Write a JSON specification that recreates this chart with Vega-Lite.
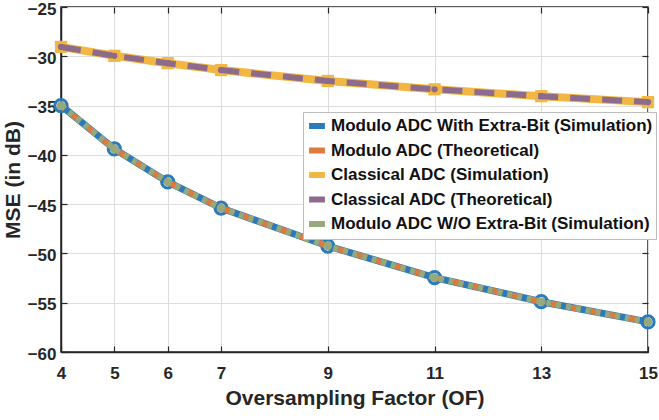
{
  "$schema": "https://vega.github.io/schema/vega-lite/v6.json",
  "width": 587,
  "height": 345,
  "autosize": {"type": "none"},
  "padding": {"left": 61, "top": 7, "right": 11, "bottom": 68},
  "background": "white",
  "config": {
    "view": {"stroke": "#262626", "strokeWidth": 1.5},
    "axis": {
      "domainColor": "#262626",
      "domainWidth": 1.5,
      "tickColor": "#262626",
      "tickWidth": 1.2,
      "tickSize": -6,
      "labelColor": "#262626",
      "labelFont": "Liberation Sans",
      "labelFontWeight": "bold",
      "labelFontSize": 17,
      "titleColor": "#262626",
      "titleFont": "Liberation Sans",
      "titleFontWeight": "bold",
      "titleFontSize": 21,
      "gridColor": "#DEDEDE",
      "gridWidth": 1
    },
    "legend": {
      "labelFont": "Liberation Sans",
      "labelFontWeight": "bold",
      "labelFontSize": 17,
      "labelColor": "#111111",
      "labelLimit": 0
    }
  },
  "data": {
    "values": [
      {"series": "Modulo ADC With Extra-Bit (Simulation)", "of": 4, "mse": -35.0},
      {"series": "Modulo ADC With Extra-Bit (Simulation)", "of": 5, "mse": -39.4},
      {"series": "Modulo ADC With Extra-Bit (Simulation)", "of": 6, "mse": -42.75},
      {"series": "Modulo ADC With Extra-Bit (Simulation)", "of": 7, "mse": -45.4},
      {"series": "Modulo ADC With Extra-Bit (Simulation)", "of": 9, "mse": -49.25},
      {"series": "Modulo ADC With Extra-Bit (Simulation)", "of": 11, "mse": -52.45},
      {"series": "Modulo ADC With Extra-Bit (Simulation)", "of": 13, "mse": -54.9},
      {"series": "Modulo ADC With Extra-Bit (Simulation)", "of": 15, "mse": -56.95},
      {"series": "Modulo ADC (Theoretical)", "of": 4, "mse": -35.0},
      {"series": "Modulo ADC (Theoretical)", "of": 5, "mse": -39.4},
      {"series": "Modulo ADC (Theoretical)", "of": 6, "mse": -42.75},
      {"series": "Modulo ADC (Theoretical)", "of": 7, "mse": -45.4},
      {"series": "Modulo ADC (Theoretical)", "of": 9, "mse": -49.25},
      {"series": "Modulo ADC (Theoretical)", "of": 11, "mse": -52.45},
      {"series": "Modulo ADC (Theoretical)", "of": 13, "mse": -54.9},
      {"series": "Modulo ADC (Theoretical)", "of": 15, "mse": -56.95},
      {"series": "Classical ADC (Simulation)", "of": 4, "mse": -29.05},
      {"series": "Classical ADC (Simulation)", "of": 5, "mse": -29.95},
      {"series": "Classical ADC (Simulation)", "of": 6, "mse": -30.7},
      {"series": "Classical ADC (Simulation)", "of": 7, "mse": -31.4},
      {"series": "Classical ADC (Simulation)", "of": 9, "mse": -32.5},
      {"series": "Classical ADC (Simulation)", "of": 11, "mse": -33.35},
      {"series": "Classical ADC (Simulation)", "of": 13, "mse": -34.05},
      {"series": "Classical ADC (Simulation)", "of": 15, "mse": -34.65},
      {"series": "Classical ADC (Theoretical)", "of": 4, "mse": -29.05},
      {"series": "Classical ADC (Theoretical)", "of": 5, "mse": -29.95},
      {"series": "Classical ADC (Theoretical)", "of": 6, "mse": -30.7},
      {"series": "Classical ADC (Theoretical)", "of": 7, "mse": -31.4},
      {"series": "Classical ADC (Theoretical)", "of": 9, "mse": -32.5},
      {"series": "Classical ADC (Theoretical)", "of": 11, "mse": -33.35},
      {"series": "Classical ADC (Theoretical)", "of": 13, "mse": -34.05},
      {"series": "Classical ADC (Theoretical)", "of": 15, "mse": -34.65},
      {"series": "Modulo ADC W/O Extra-Bit (Simulation)", "of": 4, "mse": -35.0},
      {"series": "Modulo ADC W/O Extra-Bit (Simulation)", "of": 5, "mse": -39.4},
      {"series": "Modulo ADC W/O Extra-Bit (Simulation)", "of": 6, "mse": -42.75},
      {"series": "Modulo ADC W/O Extra-Bit (Simulation)", "of": 7, "mse": -45.4},
      {"series": "Modulo ADC W/O Extra-Bit (Simulation)", "of": 9, "mse": -49.25},
      {"series": "Modulo ADC W/O Extra-Bit (Simulation)", "of": 11, "mse": -52.45},
      {"series": "Modulo ADC W/O Extra-Bit (Simulation)", "of": 13, "mse": -54.9},
      {"series": "Modulo ADC W/O Extra-Bit (Simulation)", "of": 15, "mse": -56.95}
    ]
  },
  "encoding": {
    "x": {"field": "of", "type": "quantitative", "scale": {"domain": [4, 15], "nice": false, "zero": false}},
    "y": {"field": "mse", "type": "quantitative", "scale": {"domain": [-60, -25], "nice": false, "zero": false}}
  },
  "layer": [
    {
      "transform": [{"filter": "datum.series === 'Classical ADC (Simulation)'"}],
      "mark": {"type": "line", "strokeWidth": 8, "strokeCap": "butt"},
      "encoding": {
        "x": {"field": "of", "type": "quantitative", "title": "Oversampling Factor (OF)",
          "axis": {"values": [4, 5, 6, 7, 9, 11, 13, 15], "labelPadding": 19, "titlePadding": 6, "labelFlush": false}},
        "y": {"field": "mse", "type": "quantitative", "title": "MSE (in dB)",
          "axis": {"values": [-60, -55, -50, -45, -40, -35, -30, -25], "labelPadding": 11, "labelOffset": 2, "titlePadding": 4, "labelFlush": false}},
        "color": {
          "field": "series", "type": "nominal",
          "scale": {
            "domain": ["Modulo ADC With Extra-Bit (Simulation)", "Modulo ADC (Theoretical)", "Classical ADC (Simulation)", "Classical ADC (Theoretical)", "Modulo ADC W/O Extra-Bit (Simulation)"],
            "range": ["#2B7BBA", "#DD7A3C", "#F2B742", "#8D6B8C", "#97A97C"]
          },
          "legend": {
            "title": null, "orient": "none", "legendX": 242, "legendY": 105,
            "symbolType": "stroke", "symbolStrokeWidth": 6, "symbolSize": 250,
            "labelOffset": 3, "rowPadding": 0.5, "padding": 3,
            "fillColor": "white", "strokeColor": "#BDBDBD"
          }
        }
      }
    },
    {
      "transform": [{"filter": "datum.series === 'Classical ADC (Simulation)'"}],
      "mark": {"type": "point", "shape": "square", "filled": true, "size": 150, "color": "#F2B742", "opacity": 1},
      "encoding": {"x": {"field": "of", "type": "quantitative", "axis": null}, "y": {"field": "mse", "type": "quantitative", "axis": null}}
    },
    {
      "transform": [{"filter": "datum.series === 'Classical ADC (Theoretical)'"}],
      "mark": {"type": "line", "strokeWidth": 6, "strokeDash": [20, 12], "strokeCap": "butt"},
      "encoding": {"x": {"field": "of", "type": "quantitative", "axis": null}, "y": {"field": "mse", "type": "quantitative", "axis": null},
        "color": {"field": "series", "type": "nominal"}}
    },
    {
      "transform": [{"filter": "datum.series === 'Classical ADC (Theoretical)'"}],
      "mark": {"type": "point", "shape": "circle", "filled": true, "size": 40, "color": "#8D6B8C", "opacity": 1},
      "encoding": {"x": {"field": "of", "type": "quantitative", "axis": null}, "y": {"field": "mse", "type": "quantitative", "axis": null}}
    },
    {
      "transform": [{"filter": "datum.series === 'Modulo ADC With Extra-Bit (Simulation)'"}],
      "mark": {"type": "line", "strokeWidth": 7, "strokeCap": "butt"},
      "encoding": {"x": {"field": "of", "type": "quantitative", "axis": null}, "y": {"field": "mse", "type": "quantitative", "axis": null},
        "color": {"field": "series", "type": "nominal"}}
    },
    {
      "transform": [{"filter": "datum.series === 'Modulo ADC With Extra-Bit (Simulation)'"}],
      "mark": {"type": "point", "shape": "circle", "filled": false, "size": 150, "strokeWidth": 3, "color": "#2B7BBA", "opacity": 1},
      "encoding": {"x": {"field": "of", "type": "quantitative", "axis": null}, "y": {"field": "mse", "type": "quantitative", "axis": null}}
    },
    {
      "transform": [{"filter": "datum.series === 'Modulo ADC (Theoretical)'"}],
      "mark": {"type": "line", "strokeWidth": 6, "strokeDash": [10, 10], "strokeDashOffset": 5, "strokeCap": "butt"},
      "encoding": {"x": {"field": "of", "type": "quantitative", "axis": null}, "y": {"field": "mse", "type": "quantitative", "axis": null},
        "color": {"field": "series", "type": "nominal"}}
    },
    {
      "transform": [{"filter": "datum.series === 'Modulo ADC W/O Extra-Bit (Simulation)'"}],
      "mark": {"type": "line", "strokeWidth": 6, "strokeDash": [5, 5], "strokeCap": "butt"},
      "encoding": {"x": {"field": "of", "type": "quantitative", "axis": null}, "y": {"field": "mse", "type": "quantitative", "axis": null},
        "color": {"field": "series", "type": "nominal"}}
    },
    {
      "transform": [{"filter": "datum.series === 'Modulo ADC W/O Extra-Bit (Simulation)'"}],
      "mark": {"type": "point", "shape": "circle", "filled": true, "size": 75, "color": "#97A97C", "opacity": 1},
      "encoding": {"x": {"field": "of", "type": "quantitative", "axis": null}, "y": {"field": "mse", "type": "quantitative", "axis": null}}
    },
    {
      "transform": [{"filter": "datum.series === 'Classical ADC (Simulation)'"}],
      "mark": {"type": "point", "opacity": 0},
      "encoding": {
        "x": {"field": "of", "type": "quantitative", "axis": {"orient": "top", "values": [4, 5, 6, 7, 9, 11, 13, 15], "labels": false, "title": null, "grid": false, "domain": false}},
        "y": {"field": "mse", "type": "quantitative", "axis": {"orient": "right", "values": [-60, -55, -50, -45, -40, -35, -30, -25], "labels": false, "title": null, "grid": false, "domain": false}}
      }
    }
  ],
  "resolve": {"axis": {"x": "independent", "y": "independent"}}
}
